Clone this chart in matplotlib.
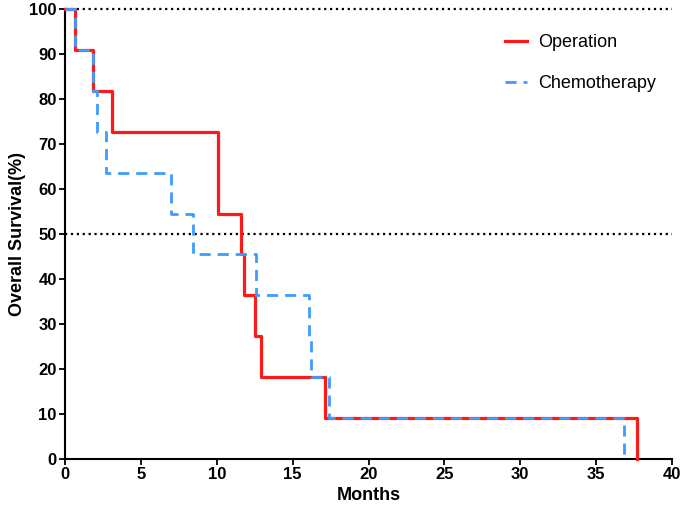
import matplotlib.pyplot as plt

# Kaplan-Meier step data (months, survival %)
op_months = [0, 0.66, 1.85, 3.1, 10.1, 11.6, 11.8, 12.5, 12.9, 17.1, 37.7]
op_surv = [100, 90.9, 81.8, 72.7, 54.5, 45.5, 36.4, 27.3, 18.2, 9.1, 0]

chemo_months = [0, 0.66, 1.85, 2.1, 2.7, 7.0, 8.45, 12.6, 16.1, 16.2, 17.4, 36.85]
chemo_surv = [100, 90.9, 81.8, 72.7, 63.6, 54.5, 45.5, 36.4, 27.3, 18.2, 9.1, 0]

x_ticks = [0, 5, 10, 15, 20, 25, 30, 35, 40]
y_ticks = [0, 10, 20, 30, 40, 50, 60, 70, 80, 90, 100]
ref_levels = [100, 50]

plt.rcParams['font.family'] = ['Liberation Sans', 'DejaVu Sans']

fig = plt.figure(figsize=(6.85, 5.13), dpi=100)
ax = fig.add_axes([0.095, 0.105, 0.886, 0.877])

for lvl in ref_levels:
    ax.axhline(lvl, color='black', linestyle=':', linewidth=1.6, zorder=1, clip_on=False)

ax.step(op_months, op_surv, where='post', color='#ff1a1a', linewidth=2.3,
        label='Operation', zorder=3, clip_on=False)
ax.step(chemo_months, chemo_surv, where='post', color='#3d9cff', linewidth=2,
        linestyle=(0, (4, 2.5)), label='Chemotherapy', zorder=4, clip_on=False)

ax.set_xlim(0, 40)
ax.set_ylim(0, 100)
ax.set_xticks(x_ticks)
ax.set_yticks(y_ticks)
ax.tick_params(labelsize=12, width=1.3, length=4, pad=2)
for lbl in ax.get_xticklabels() + ax.get_yticklabels():
    lbl.set_fontweight('bold')

for s in ['top', 'right']:
    ax.spines[s].set_visible(False)
for s in ['left', 'bottom']:
    ax.spines[s].set_linewidth(1.5)

ax.set_xlabel('Months', fontsize=13, fontweight='bold', labelpad=3)
ax.set_ylabel('Overall Survival(%)', fontsize=13, fontweight='bold', labelpad=2)

ax.legend(loc='upper right', bbox_to_anchor=(1.0, 0.98), frameon=False,
          fontsize=13, handlelength=1.2, labelspacing=1.3, handletextpad=0.6)

fig.savefig('out.png', dpi=100)
